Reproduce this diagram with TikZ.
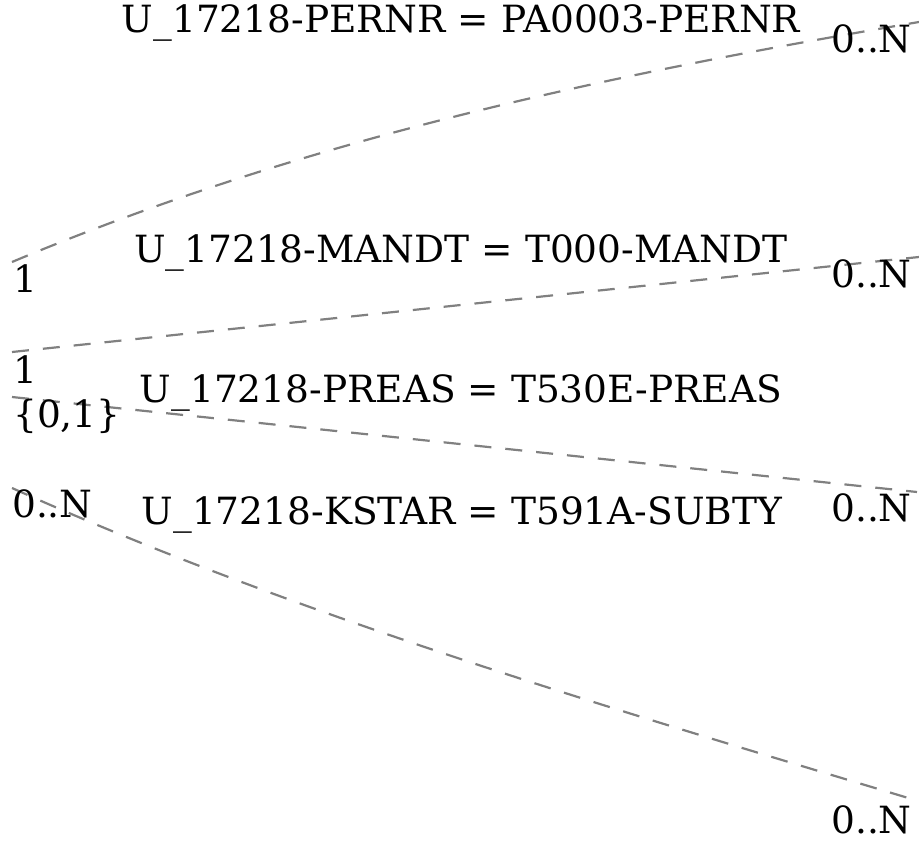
\documentclass[tikz,border=0pt]{standalone}
\usepackage{fontspec}
\setmainfont{DejaVu Serif}
\usetikzlibrary{positioning}

\tikzset{
  rel/.style={draw=gray, line width=2.2pt, dash pattern=on 17pt off 14pt},
  lbl/.style={font=\fontsize{37.5}{42}\selectfont, inner sep=0pt},
}

\begin{document}
\begin{tikzpicture}[x=1pt,y=-1pt]
\useasboundingbox (0,0) rectangle (919,843);
% line ends
\coordinate (pernrL) at (12,262);   \coordinate (pernrR) at (919,22);
\coordinate (mandtL) at (12,352);   \coordinate (mandtR) at (919,257);
\coordinate (preasL) at (12,397);   \coordinate (preasR) at (917,492);
\coordinate (kstarL) at (12,488);   \coordinate (kstarR) at (915,800);

\draw[rel] (pernrL) .. controls (312,136) and (619,73) .. (pernrR);
\draw[rel] (mandtL) -- (mandtR);
\draw[rel] (preasL) -- (preasR);
\draw[rel] (kstarL) .. controls (292,614) and (615,710) .. (kstarR);

% conditions
\node[lbl, anchor=base] (pernr) at (461,33) {U\_17218-PERNR = PA0003-PERNR};
\node[lbl, anchor=base] (mandt) at (461,262) {U\_17218-MANDT = T000-MANDT};
\node[lbl, anchor=base] (preas) at (461,402) {U\_17218-PREAS = T530E-PREAS};
\node[lbl, anchor=base] (kstar) at (462,524) {U\_17218-KSTAR = T591A-SUBTY};

% cardinalities
\node[lbl, anchor=base west] (pernrC1) at (13,292) {1};
\node[lbl, anchor=base east] (pernrC2) at (912,53) {0..N};
\node[lbl, anchor=base west] (mandtC1) at (13,383) {1};
\node[lbl, anchor=base east] (mandtC2) at (912,287) {0..N};
\node[lbl, anchor=base west] (preasC1) at (13,427) {\{0,1\}};
\node[lbl, anchor=base east] (preasC2) at (912,521) {0..N};
\node[lbl, anchor=base west] (kstarC1) at (12,517) {0..N};
\node[lbl, anchor=base east] (kstarC2) at (912,833) {0..N};
\end{tikzpicture}
\end{document}
